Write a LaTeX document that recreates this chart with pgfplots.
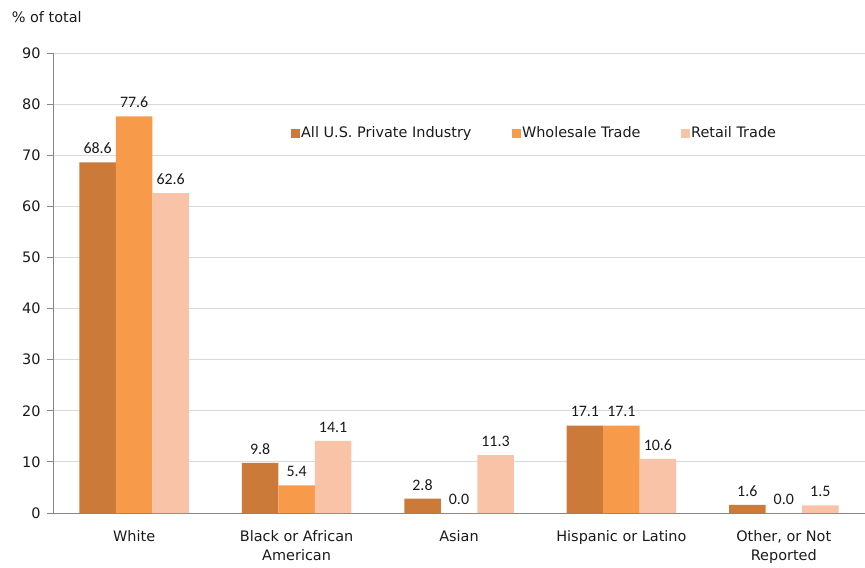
\documentclass[border=0pt]{standalone}
\usepackage{pgfplots}
\pgfplotsset{compat=1.18}
\usepackage{fontspec}
\setmainfont{DejaVu Sans}
\newfontfamily\lblfont{Carlito}
\definecolor{cA}{HTML}{CC7A3A}
\definecolor{cB}{HTML}{F79A4A}
\definecolor{cC}{HTML}{F9C3A8}
\definecolor{gridc}{HTML}{D9D9D9}
\definecolor{axc}{HTML}{868686}
\definecolor{txt}{HTML}{1A1A1A}
\begin{document}
\begin{tikzpicture}
\useasboundingbox (-53bp,-55bp) rectangle (812bp,513bp);
\begin{axis}[
  at={(0,0)}, anchor=south west,
  scale only axis, width=812bp, height=460bp,
  ybar=0pt, bar width=36.5bp,
  xmin=-0.5, xmax=4.5, ymin=0, ymax=90,
  ytick={0,10,...,90},
  xtick={0,1,2,3,4},
  xticklabels={White,{Black or African\\American},Asian,{Hispanic or Latino},{Other, or Not\\Reported}},
  xticklabel style={align=center, font=\fontsize{14.5}{19.5}\selectfont, text=txt, yshift=-8bp},
  yticklabel style={font=\fontsize{14.5}{17}\selectfont, text=txt, xshift=-3bp},
  /pgf/number format/assume math mode=true,
  x tick style={draw=none},
  extra x ticks={0.5,1.5,2.5,3.5},
  extra x tick labels={},
  extra x tick style={tick style={draw=axc, line width=0.8pt}, major tick length=6bp, tick align=outside, grid=none},
  y tick style={draw=axc, line width=0.8pt},
  major tick length=6bp, tick align=outside,
  ymajorgrids, grid style={gridc, line width=0.8pt},
  axis x line*=bottom, axis y line*=left,
  axis line style={axc, line width=0.8pt, -},
  clip=false,
  nodes near coords={\pgfmathprintnumber[fixed,fixed zerofill,precision=1]{\pgfplotspointmeta}},
  nodes near coords style={font=\lblfont\fontsize{16}{18}\selectfont, text=txt, yshift=5bp},
  legend columns=3,
  legend style={draw=none, fill=none, at={(0.293,0.826)}, anchor=west, font=\fontsize{14.5}{17}\selectfont, text=txt,
    inner sep=0pt,
    nodes={inner sep=1.5bp},
    /tikz/every even column/.append style={column sep=39bp}},
  legend image code/.code={\fill[#1] (0bp,-4.5bp) rectangle (8.5bp,4bp);},
]
\addplot[fill=cA, draw=none] coordinates {(0,68.6) (1,9.8) (2,2.8) (3,17.1) (4,1.6)};
\addplot[fill=cB, draw=none] coordinates {(0,77.6) (1,5.4) (2,0.0) (3,17.1) (4,0.0)};
\addplot[fill=cC, draw=none] coordinates {(0,62.6) (1,14.1) (2,11.3) (3,10.6) (4,1.5)};
\legend{All U.S. Private Industry,Wholesale Trade,Retail Trade}
\node[anchor=base west, font=\fontsize{14.5}{17}\selectfont, text=txt, inner sep=0pt] at (rel axis cs:-0.051,1.067) {\% of total};
\end{axis}
\end{tikzpicture}
\end{document}
